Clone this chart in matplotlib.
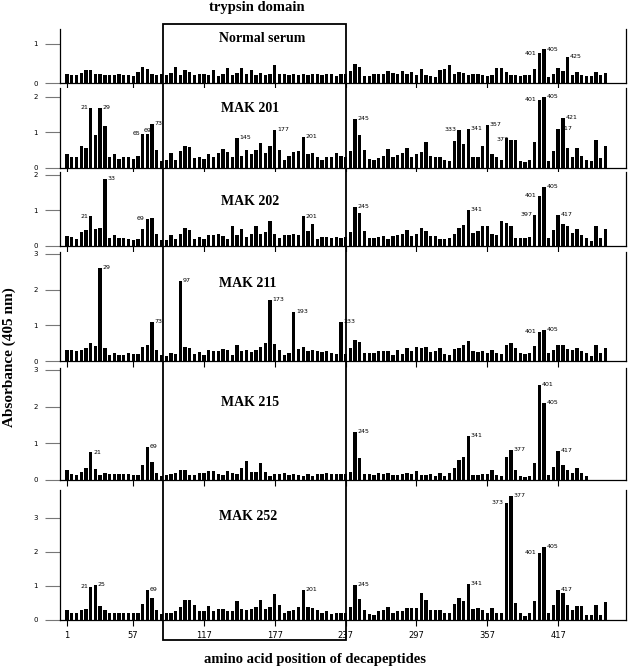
import numpy as np
import matplotlib
matplotlib.use('Agg')
import matplotlib.pyplot as plt
from matplotlib.patches import Rectangle

# decapeptide start positions (every 4 amino acids)
positions = list(range(1, 458, 4))
tick_positions = [1, 57, 117, 177, 237, 297, 357, 417]

normal_serum = [0.24, 0.2, 0.2, 0.25, 0.32, 0.32, 0.22, 0.22, 0.21, 0.21,
                0.2, 0.22, 0.2, 0.2, 0.19, 0.28, 0.4, 0.36, 0.22, 0.2,
                0.24, 0.2, 0.26, 0.4, 0.2, 0.34, 0.27, 0.2, 0.24, 0.24,
                0.2, 0.34, 0.18, 0.24, 0.38, 0.2, 0.26, 0.38, 0.22, 0.34,
                0.2, 0.26, 0.2, 0.24, 0.46, 0.24, 0.22, 0.2, 0.22, 0.2,
                0.24, 0.2, 0.22, 0.24, 0.2, 0.24, 0.22, 0.18, 0.24, 0.22,
                0.3, 0.47, 0.4, 0.18, 0.17, 0.22, 0.22, 0.24, 0.3, 0.26,
                0.24, 0.3, 0.22, 0.28, 0.2, 0.35, 0.2, 0.18, 0.16, 0.32,
                0.36, 0.45, 0.24, 0.28, 0.26, 0.2, 0.24, 0.24, 0.2, 0.18,
                0.2, 0.38, 0.38, 0.28, 0.2, 0.2, 0.18, 0.2, 0.2, 0.36,
                0.75, 0.85, 0.15, 0.22, 0.38, 0.3, 0.65, 0.2, 0.27, 0.2,
                0.18, 0.18, 0.28, 0.2, 0.25]

mak201 = [0.38, 0.3, 0.3, 0.62, 0.55, 1.7, 0.92, 1.7, 1.17, 0.3,
          0.38, 0.25, 0.3, 0.3, 0.25, 0.33, 0.95, 0.95, 1.25, 0.52,
          0.2, 0.22, 0.42, 0.22, 0.48, 0.62, 0.58, 0.27, 0.3, 0.25,
          0.38, 0.3, 0.42, 0.53, 0.45, 0.3, 0.85, 0.35, 0.5, 0.38,
          0.5, 0.7, 0.42, 0.62, 1.08, 0.5, 0.22, 0.35, 0.45, 0.48,
          0.87, 0.38, 0.42, 0.32, 0.22, 0.32, 0.3, 0.42, 0.35, 0.3,
          0.47, 1.38, 0.92, 0.5, 0.25, 0.22, 0.27, 0.35, 0.53, 0.3,
          0.37, 0.43, 0.57, 0.3, 0.38, 0.45, 0.72, 0.35, 0.3, 0.3,
          0.22, 0.2, 0.75, 1.08, 0.67, 1.1, 0.32, 0.32, 0.62, 1.2,
          0.38, 0.3, 0.22, 0.85, 0.8, 0.8, 0.2, 0.17, 0.22, 0.73,
          1.92, 2.0, 0.2, 0.47, 1.1, 1.4, 0.57, 0.3, 0.57, 0.35,
          0.22, 0.2, 0.78, 0.27, 0.63]

mak202 = [0.28, 0.24, 0.2, 0.4, 0.45, 0.83, 0.48, 0.52, 1.88, 0.22,
          0.3, 0.22, 0.22, 0.2, 0.17, 0.2, 0.48, 0.77, 0.8, 0.35,
          0.18, 0.18, 0.32, 0.2, 0.35, 0.52, 0.45, 0.2, 0.25, 0.2,
          0.3, 0.3, 0.35, 0.28, 0.2, 0.55, 0.3, 0.48, 0.25, 0.33,
          0.55, 0.33, 0.38, 0.7, 0.33, 0.22, 0.3, 0.32, 0.33, 0.32,
          0.83, 0.42, 0.62, 0.2, 0.25, 0.25, 0.22, 0.25, 0.22, 0.25,
          0.38, 1.1, 0.92, 0.43, 0.22, 0.22, 0.25, 0.28, 0.2, 0.28,
          0.3, 0.35, 0.45, 0.28, 0.33, 0.52, 0.43, 0.28, 0.28, 0.2,
          0.2, 0.22, 0.35, 0.52, 0.6, 1.02, 0.37, 0.42, 0.57, 0.57,
          0.33, 0.3, 0.7, 0.65, 0.57, 0.22, 0.22, 0.22, 0.25, 0.87,
          1.4, 1.65, 0.22, 0.45, 0.88, 0.62, 0.55, 0.37, 0.47, 0.32,
          0.22, 0.15, 0.55, 0.22, 0.47]

mak211 = [0.32, 0.32, 0.28, 0.32, 0.35, 0.5, 0.42, 2.6, 0.37, 0.18,
          0.23, 0.17, 0.17, 0.23, 0.2, 0.2, 0.38, 0.45, 1.1, 0.3,
          0.17, 0.15, 0.22, 0.2, 2.25, 0.38, 0.35, 0.2, 0.25, 0.18,
          0.3, 0.27, 0.27, 0.33, 0.3, 0.18, 0.45, 0.27, 0.3, 0.25,
          0.32, 0.4, 0.5, 1.72, 0.48, 0.3, 0.17, 0.22, 1.38, 0.33,
          0.38, 0.28, 0.3, 0.27, 0.25, 0.28, 0.22, 0.2, 1.1, 0.2,
          0.35, 0.6, 0.52, 0.22, 0.22, 0.22, 0.28, 0.27, 0.27, 0.18,
          0.32, 0.2, 0.35, 0.28, 0.38, 0.35, 0.4, 0.25, 0.27, 0.37,
          0.2, 0.17, 0.33, 0.37, 0.45, 0.55, 0.28, 0.25, 0.27, 0.22,
          0.32, 0.22, 0.2, 0.45, 0.5, 0.37, 0.22, 0.2, 0.22, 0.43,
          0.82, 0.87, 0.22, 0.32, 0.45, 0.45, 0.33, 0.32, 0.37, 0.27,
          0.22, 0.15, 0.45, 0.22, 0.35]

mak215 = [0.27, 0.17, 0.13, 0.22, 0.33, 0.75, 0.3, 0.13, 0.18, 0.15,
          0.15, 0.15, 0.15, 0.17, 0.13, 0.13, 0.4, 0.9, 0.5, 0.18,
          0.12, 0.13, 0.15, 0.2, 0.28, 0.28, 0.13, 0.13, 0.18, 0.18,
          0.25, 0.25, 0.15, 0.13, 0.25, 0.18, 0.17, 0.33, 0.52, 0.22,
          0.22, 0.47, 0.22, 0.1, 0.15, 0.17, 0.2, 0.13, 0.17, 0.13,
          0.1, 0.15, 0.12, 0.15, 0.15, 0.2, 0.15, 0.15, 0.15, 0.15,
          0.22, 1.32, 0.6, 0.15, 0.15, 0.13, 0.18, 0.15, 0.18, 0.13,
          0.13, 0.15, 0.18, 0.15, 0.25, 0.13, 0.13, 0.15, 0.12, 0.18,
          0.12, 0.18, 0.33, 0.55, 0.63, 1.2, 0.13, 0.13, 0.17, 0.15,
          0.28, 0.13, 0.1, 0.62, 0.82, 0.27, 0.12, 0.07, 0.12, 0.47,
          2.6, 2.1, 0.13, 0.35, 0.78, 0.4, 0.28, 0.2, 0.32, 0.18,
          0.12]

mak252 = [0.3, 0.22, 0.2, 0.3, 0.33, 0.97, 1.03, 0.42, 0.3, 0.22,
          0.22, 0.22, 0.2, 0.2, 0.2, 0.2, 0.47, 0.87, 0.65, 0.3,
          0.18, 0.2, 0.22, 0.25, 0.38, 0.6, 0.6, 0.45, 0.25, 0.25,
          0.42, 0.25, 0.32, 0.33, 0.27, 0.27, 0.55, 0.32, 0.3, 0.32,
          0.37, 0.58, 0.32, 0.37, 0.77, 0.45, 0.2, 0.25, 0.3, 0.38,
          0.88, 0.38, 0.35, 0.28, 0.2, 0.27, 0.17, 0.22, 0.22, 0.22,
          0.38, 1.02, 0.62, 0.28, 0.17, 0.15, 0.25, 0.28, 0.38, 0.2,
          0.25, 0.25, 0.35, 0.35, 0.35, 0.78, 0.6, 0.3, 0.3, 0.28,
          0.2, 0.2, 0.47, 0.65, 0.57, 1.05, 0.33, 0.35, 0.3, 0.22,
          0.35, 0.22, 0.22, 3.45, 3.65, 0.5, 0.2, 0.12, 0.22, 0.55,
          1.97, 2.15, 0.22, 0.45, 0.88, 0.8, 0.45, 0.3, 0.4, 0.42,
          0.15, 0.15, 0.45, 0.15, 0.52]

# labelled peaks: (position, side of the bar the label sits on: l / r / c = above)
normal_peaks = [(401, 'l'), (405, 'r'), (425, 'r')]
mak201_peaks = [(21, 'l'), (29, 'r'), (65, 'l'), (69, 'c'), (73, 'r'), (145, 'r'),
                (177, 'r'), (201, 'r'), (245, 'r'), (333, 'l'), (341, 'r'),
                (357, 'r'), (377, 'l'), (401, 'l'), (405, 'r'), (417, 'r'), (421, 'r')]
mak202_peaks = [(21, 'l'), (33, 'r'), (69, 'l'), (201, 'r'), (245, 'r'), (341, 'r'),
                (397, 'l'), (401, 'l'), (405, 'r'), (417, 'r')]
mak211_peaks = [(29, 'r'), (73, 'r'), (97, 'r'), (173, 'r'), (193, 'r'), (233, 'r'),
                (401, 'l'), (405, 'r')]
mak215_peaks = [(21, 'r'), (69, 'r'), (245, 'r'), (341, 'r'), (377, 'r'), (401, 'r'),
                (405, 'r'), (417, 'r')]
mak252_peaks = [(21, 'l'), (25, 'r'), (69, 'r'), (201, 'r'), (245, 'r'), (341, 'r'),
                (373, 'l'), (377, 'r'), (401, 'l'), (405, 'r'), (417, 'r')]

panels = [
    ('Normal serum', normal_serum, normal_peaks, [0, 1], 1.37),
    ('MAK 201', mak201, mak201_peaks, [0, 1, 2], 2.25),
    ('MAK 202', mak202, mak202_peaks, [0, 1, 2], 2.08),
    ('MAK 211', mak211, mak211_peaks, [0, 1, 2, 3], 3.05),
    ('MAK 215', mak215, mak215_peaks, [0, 1, 2, 3], 3.05),
    ('MAK 252', mak252, mak252_peaks, [0, 1, 2, 3], 3.82),
]

W, H = 640, 667
# pixel layout of each panel: (bottom, top) and title position
panel_px = [(83, 29), (168, 88), (246, 172), (361, 252), (480, 368), (620, 490)]
title_px = [(262, 38), (250, 108), (250, 201), (248, 283), (250, 403), (248, 517)]
left_px, right_px = 60, 626

serif = 'Liberation Serif'
fig = plt.figure(figsize=(W / 100, H / 100), dpi=100)

for k, (name, vals, peaks, yt, ytop) in enumerate(panels):
    bot, top = panel_px[k]
    ax = fig.add_axes([left_px / W, 1 - bot / H, (right_px - left_px) / W, (bot - top) / H])
    pos = positions[:len(vals)]
    ax.bar(pos, vals, width=2.8, color='black', linewidth=0)
    ax.set_xlim(-5, 474.5)
    ax.set_ylim(0, ytop)
    ax.spines['top'].set_visible(False)
    for s in ['left', 'right', 'bottom']:
        ax.spines[s].set_linewidth(0.9)
    ax.set_yticks(yt)
    ax.set_yticklabels([str(v) for v in yt], fontsize=5)
    ax.tick_params(axis='y', length=11, width=0.8, color='#777777', pad=5)
    ax.set_xticks(tick_positions)
    ax.tick_params(axis='x', length=4, width=0.8, direction='out')
    if k < len(panels) - 1:
        ax.set_xticklabels([])
    else:
        ax.set_xticklabels([str(t) for t in tick_positions], fontsize=6)
        ax.tick_params(axis='x', pad=4)
    for p, side in peaks:
        h = vals[positions.index(p)]
        if side == 'c':
            ax.annotate(str(p), xy=(p, h), xytext=(0, 1), textcoords='offset points',
                        ha='center', va='bottom', fontsize=4.5)
            continue
        dx = 1.8 if side == 'r' else -1.8
        ax.annotate(str(p), xy=(p, h), xytext=(dx, -1.5), textcoords='offset points',
                    ha='left' if side == 'r' else 'right', va='bottom', fontsize=4.5)
    tx, ty = title_px[k]
    fig.text(tx / W, 1 - ty / H, name, ha='center', va='center',
             fontsize=10, fontweight='bold', family=serif)

# trypsin domain box
rx0, rx1, ry0, ry1 = 163, 346, 24, 640
fig.patches.append(Rectangle((rx0 / W, 1 - ry1 / H), (rx1 - rx0) / W, (ry1 - ry0) / H,
                             transform=fig.transFigure, fill=False,
                             edgecolor='black', linewidth=1.3, zorder=10))

fig.text(257 / W, 1 - 8 / H, 'trypsin domain', ha='center', va='center',
         fontsize=10.5, fontweight='bold', family=serif)
fig.text(315 / W, 1 - 659 / H, 'amino acid position of decapeptides', ha='center',
         va='center', fontsize=10.5, fontweight='bold', family=serif)
fig.text(9 / W, 1 - 357 / H, 'Absorbance (405 nm)', ha='center', va='center',
         rotation=90, fontsize=11, fontweight='bold', family=serif)

fig.savefig('out.png', dpi=100)
